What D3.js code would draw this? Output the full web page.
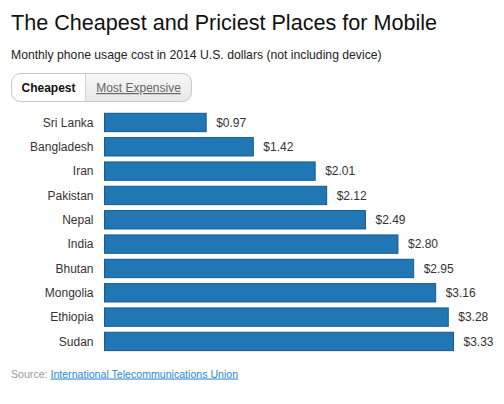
<!DOCTYPE html>
<html>
<head>
<meta charset="utf-8">
<script src="https://cdn.jsdelivr.net/npm/d3@7"></script>
<style>
  body { margin: 0; background: #fff; font-family: "Liberation Sans", Arial, sans-serif; }
  svg text { font-family: "Liberation Sans", Arial, sans-serif; }
</style>
</head>
<body>
<div id="chart"></div>
<script>
// Data
const countries = ["Sri Lanka", "Bangladesh", "Iran", "Pakistan", "Nepal", "India", "Bhutan", "Mongolia", "Ethiopia", "Sudan"];
const costs = [0.97, 1.42, 2.01, 2.12, 2.49, 2.80, 2.95, 3.16, 3.28, 3.33];
const tabs = ["Cheapest", "Most Expensive"];

const width = 504, height = 404;

const svg = d3.select("#chart").append("svg")
    .attr("width", width)
    .attr("height", height);

// Title + subtitle
svg.append("text")
    .attr("x", 11).attr("y", 29.5)
    .attr("font-size", "21.6px")
    .attr("fill", "#111")
    .text("The Cheapest and Priciest Places for Mobile");

svg.append("text")
    .attr("x", 11).attr("y", 59)
    .attr("font-size", "12.2px")
    .attr("fill", "#222")
    .text("Monthly phone usage cost in 2014 U.S. dollars (not including device)");

// Toggle buttons
const btn = svg.append("g");
const bx = 11.5, by = 73.5, bw = 180, bh = 28, split = 85.5;
const defs = svg.append("defs");
const grad = defs.append("linearGradient").attr("id", "btnGrad")
    .attr("x1", 0).attr("y1", 0).attr("x2", 0).attr("y2", 1);
grad.append("stop").attr("offset", "0%").attr("stop-color", "#f7f7f7");
grad.append("stop").attr("offset", "100%").attr("stop-color", "#e8e8e8");
defs.append("clipPath").attr("id", "btnClip")
    .append("rect").attr("x", bx).attr("y", by).attr("width", bw).attr("height", bh).attr("rx", 9);

btn.append("rect")
    .attr("x", split).attr("y", by).attr("width", bx + bw - split).attr("height", bh)
    .attr("fill", "url(#btnGrad)")
    .attr("clip-path", "url(#btnClip)");
btn.append("rect")
    .attr("x", bx).attr("y", by).attr("width", bw).attr("height", bh).attr("rx", 9)
    .attr("fill", "none").attr("stroke", "#c8c8c8");
btn.append("line")
    .attr("x1", split).attr("x2", split).attr("y1", by).attr("y2", by + bh)
    .attr("stroke", "#d4d4d4");
btn.append("text")
    .attr("x", (bx + split) / 2).attr("y", 92)
    .attr("text-anchor", "middle")
    .attr("font-size", "12px").attr("font-weight", "bold").attr("fill", "#111")
    .text(tabs[0]);
btn.append("text")
    .attr("x", (split + bx + bw) / 2).attr("y", 92)
    .attr("text-anchor", "middle")
    .attr("font-size", "12px").attr("fill", "#666")
    .attr("text-decoration", "underline")
    .text(tabs[1]);

// Bars
const x = d3.scaleLinear()
    .domain([0, 3.33])
    .range([104.5, 453.5]);

const y = d3.scaleBand()
    .domain(countries)
    .range([110.3, 353.6])
    .paddingInner(0.245)
    .paddingOuter(0.1225);

const rows = svg.append("g").selectAll("g")
    .data(countries.map((c, i) => ({ name: c, value: costs[i] })))
    .enter().append("g");

rows.append("rect")
    .attr("x", x(0))
    .attr("y", d => y(d.name))
    .attr("width", d => x(d.value) - x(0))
    .attr("height", y.bandwidth())
    .attr("fill", "#2077b4")
    .attr("stroke", "#17598f")
    .attr("stroke-width", 1);

rows.append("text")
    .attr("x", x(0) - 11)
    .attr("y", d => y(d.name) + y.bandwidth() / 2)
    .attr("dy", "0.35em")
    .attr("text-anchor", "end")
    .attr("font-size", "12px")
    .attr("fill", "#333")
    .text(d => d.name);

rows.append("text")
    .attr("x", d => x(d.value) + 10)
    .attr("y", d => y(d.name) + y.bandwidth() / 2)
    .attr("dy", "0.35em")
    .attr("font-size", "12px")
    .attr("fill", "#333")
    .text(d => d3.format("$.2f")(d.value));

// Source
const src = svg.append("text")
    .attr("x", 11).attr("y", 377.5)
    .attr("font-size", "10.6px");
src.append("tspan").attr("fill", "#999").text("Source: ");
src.append("tspan").attr("fill", "#2a8ad4")
    .attr("text-decoration", "underline")
    .text("International Telecommunications Union");
</script>
</body>
</html>
